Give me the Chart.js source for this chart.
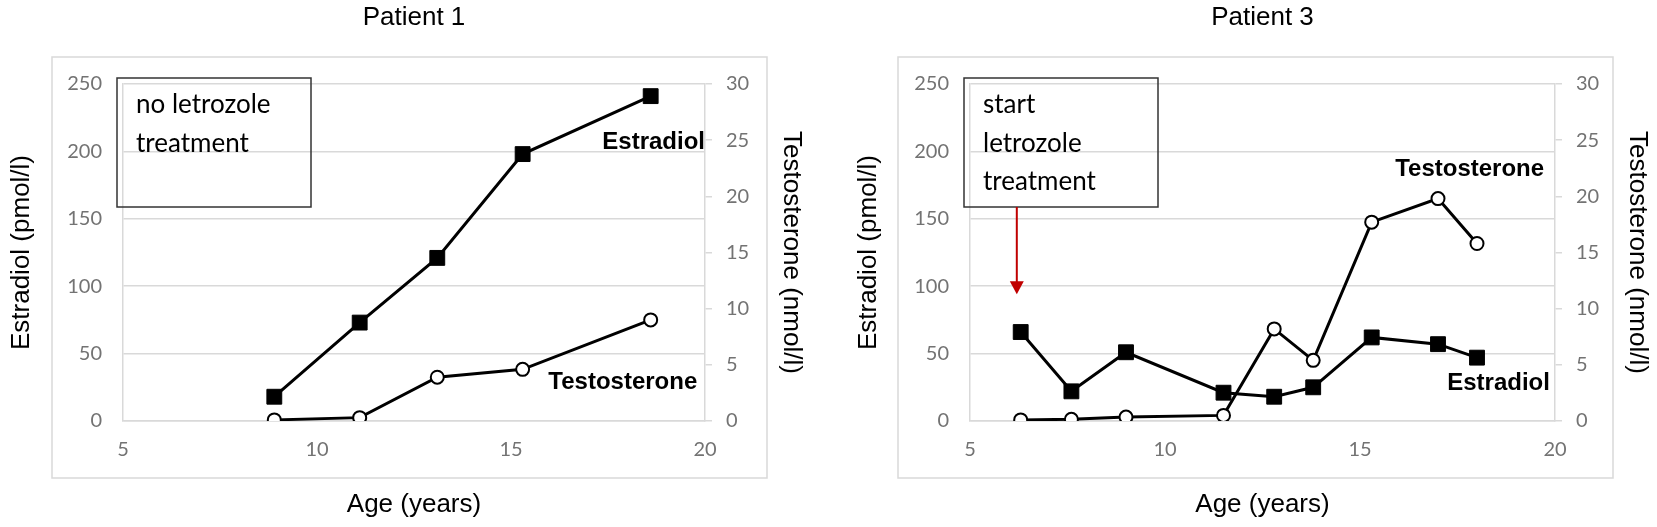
<!DOCTYPE html>
<html>
<head>
<meta charset="utf-8">
<script src="https://cdn.jsdelivr.net/npm/chart.js@4"></script>
<style>
  body { margin: 0; background: #fff; }
  canvas { position: absolute; top: 0; }
</style>
</head>
<body>
<canvas id="p1" width="839" height="527" style="left:0"></canvas>
<canvas id="p3" width="818" height="527" style="left:839px"></canvas>
<script>
// Patient 1
const ages1 = [8.9, 11.1, 13.1, 15.3, 18.6];
const estradiol1 = [18, 73, 121, 198, 241];
const testosterone1 = [0.1, 0.3, 3.9, 4.6, 9.0];

// Patient 3
const ages3 = [6.3, 7.6, 9.0, 11.5, 12.8, 13.8, 15.3, 17.0, 18.0];
const estradiol3 = [66, 22, 51, 21, 18, 25, 62, 57, 47];
const testosterone3 = [0.1, 0.15, 0.35, 0.5, 8.2, 5.4, 17.7, 19.8, 15.8];

// axis ticks
const ageTicks = [5, 10, 15, 20];
const estradiolTicks = [0, 50, 100, 150, 200, 250];
const testosteroneTicks = [0, 5, 10, 15, 20, 25, 30];

const GRID = '#d9d9d9';
const TICK_COLOR = '#737373';
const TITLE_FONT = {family: '"Liberation Sans", Arial', size: 26, weight: 'normal'};
const TICK_FONT = {family: 'Lato', size: 20};

const points = (xs, ys) => xs.map((x, i) => ({x, y: ys[i]}));

// light grey frame around plot + tick labels
const framePlugin = {
    id: 'frame',
    beforeDraw(chart, args, o) {
        const {ctx, chartArea: a} = chart;
        ctx.save();
        ctx.strokeStyle = GRID;
        ctx.lineWidth = 1.5;
        ctx.strokeRect(a.left - o.left, a.top - o.top,
            a.width + o.left + o.right, a.height + o.top + o.bottom);
        ctx.restore();
    }
};

// note box, series names and the arrow
const notesPlugin = {
    id: 'notes',
    afterDatasetsDraw(chart, args, o) {
        const {ctx, chartArea: a, scales} = chart;
        ctx.save();
        const bx = a.left - 6, by = a.top - 6, bw = 194, bh = 129;
        ctx.strokeStyle = '#333';
        ctx.lineWidth = 1.5;
        ctx.strokeRect(bx, by, bw, bh);
        ctx.fillStyle = '#000';
        ctx.font = '26px Lato';
        ctx.textAlign = 'left';
        ctx.textBaseline = 'alphabetic';
        o.box.forEach((line, i) => ctx.fillText(line, bx + 19, by + 35 + i * 38.5));

        ctx.font = 'bold 24px "Liberation Sans", Arial';
        ctx.textAlign = 'right';
        ctx.textBaseline = 'middle';
        o.labels.forEach(l => {
            ctx.fillText(l.text, scales.x.getPixelForValue(l.x), scales.y.getPixelForValue(l.y));
        });

        if (o.arrow) {
            const ax = scales.x.getPixelForValue(o.arrow.x);
            const tip = scales.y.getPixelForValue(o.arrow.y);
            ctx.strokeStyle = '#c00000';
            ctx.fillStyle = '#c00000';
            ctx.lineWidth = 2;
            ctx.beginPath();
            ctx.moveTo(ax, by + bh);
            ctx.lineTo(ax, tip - 10);
            ctx.stroke();
            ctx.beginPath();
            ctx.moveTo(ax - 7, tip - 13);
            ctx.lineTo(ax + 7, tip - 13);
            ctx.lineTo(ax, tip);
            ctx.closePath();
            ctx.fill();
        }
        ctx.restore();
    }
};

function makeChart(id, title, ages, estr, testo, sizes, notes) {
    return new Chart(document.getElementById(id), {
        type: 'line',
        data: {
            datasets: [{
                label: 'Estradiol',
                data: points(ages, estr),
                yAxisID: 'y',
                borderColor: '#000',
                borderWidth: 3,
                pointStyle: 'rect',
                pointRadius: 10.5,
                pointBorderWidth: 1,
                pointBackgroundColor: '#000',
                pointBorderColor: '#000',
                tension: 0
            }, {
                label: 'Testosterone',
                data: points(ages, testo),
                yAxisID: 'y1',
                borderColor: '#000',
                borderWidth: 3,
                pointStyle: 'circle',
                pointRadius: 6.5,
                pointBorderWidth: 2,
                pointBackgroundColor: '#fff',
                pointBorderColor: '#000',
                tension: 0
            }]
        },
        options: {
            responsive: false,
            animation: false,
            events: [],
            plugins: {
                legend: {display: false},
                tooltip: {enabled: false},
                title: {
                    display: true,
                    text: title,
                    fullSize: false,
                    color: '#000',
                    font: TITLE_FONT,
                    padding: {top: 2.4, bottom: 50.4}
                },
                frame: sizes.frame,
                notes: notes
            },
            scales: {
                x: {
                    type: 'linear',
                    min: ageTicks[0],
                    max: ageTicks[ageTicks.length - 1],
                    afterFit: s => { s.height = 106; },
                    ticks: {stepSize: 5, color: TICK_COLOR, font: TICK_FONT, padding: 17},
                    grid: {display: false, drawTicks: false},
                    border: {display: true, color: GRID, width: 1.5},
                    title: {display: true, text: 'Age (years)', color: '#000', font: TITLE_FONT,
                        padding: {top: 0, bottom: 6.4}}
                },
                y: {
                    position: 'left',
                    min: estradiolTicks[0],
                    max: estradiolTicks[estradiolTicks.length - 1],
                    afterFit: s => { s.width = sizes.left; },
                    ticks: {stepSize: 50, color: TICK_COLOR, font: TICK_FONT, padding: 21},
                    grid: {color: GRID, lineWidth: 1.5, drawTicks: false},
                    border: {display: true, color: GRID, width: 1.5},
                    title: {display: true, text: 'Estradiol (pmol/l)', color: '#000', font: TITLE_FONT,
                        padding: {top: sizes.leftTitle, bottom: 0}}
                },
                y1: {
                    position: 'right',
                    min: testosteroneTicks[0],
                    max: testosteroneTicks[testosteroneTicks.length - 1],
                    afterFit: s => { s.width = sizes.right; },
                    ticks: {stepSize: 5, color: TICK_COLOR, font: TICK_FONT, padding: 14},
                    grid: {drawOnChartArea: false, drawTicks: true, tickLength: 7, color: GRID, lineWidth: 1.5},
                    border: {display: true, color: GRID, width: 1.5},
                    title: {display: true, text: 'Testosterone (nmol/l)', color: '#000', font: TITLE_FONT,
                        padding: {top: sizes.rightTitle, bottom: 0}}
                }
            }
        },
        plugins: [framePlugin, notesPlugin]
    });
}

makeChart('p1', 'Patient 1', ages1, estradiol1, testosterone1,
    {left: 123, right: 134, leftTitle: 6, rightTitle: 32.5,
        frame: {left: 71, top: 27, right: 62, bottom: 57}},
    {box: ['no letrozole', 'treatment'],
        labels: [{text: 'Estradiol', x: 20, y: 207}, {text: 'Testosterone', x: 19.8, y: 29}]});

makeChart('p3', 'Patient 3', ages3, estradiol3, testosterone3,
    {left: 131, right: 102, leftTitle: 14.4, rightTitle: 4.4,
        frame: {left: 72, top: 27, right: 58, bottom: 57}},
    {box: ['start', 'letrozole', 'treatment'],
        labels: [{text: 'Testosterone', x: 19.72, y: 187}, {text: 'Estradiol', x: 19.87, y: 28}],
        arrow: {x: 6.2, y: 94}});
</script>
</body>
</html>
